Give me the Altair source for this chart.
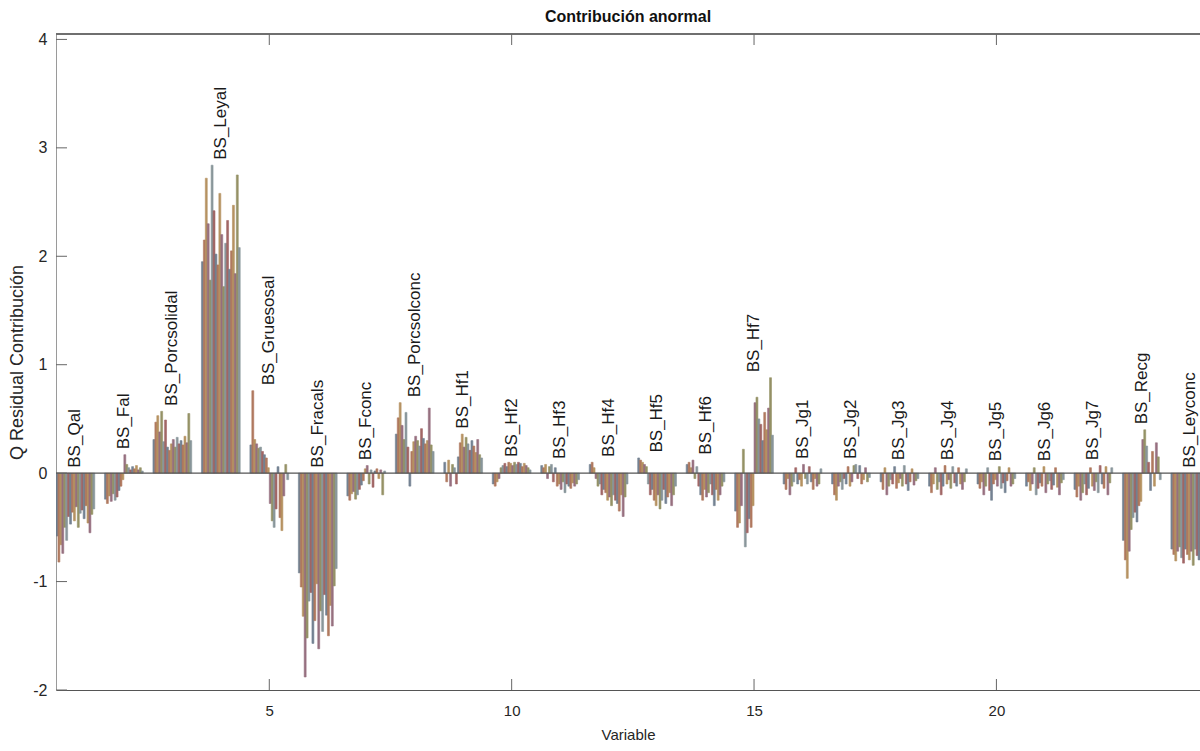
import altair as alt
import pandas as pd

# Variable names (one group of bars per variable)
variables = [
    "BS_Qal", "BS_Fal", "BS_Porcsolidal", "BS_Leyal", "BS_Gruesosal", "BS_Fracals",
    "BS_Fconc", "BS_Porcsolconc", "BS_Hf1", "BS_Hf2", "BS_Hf3", "BS_Hf4", "BS_Hf5",
    "BS_Hf6", "BS_Hf7", "BS_Jg1", "BS_Jg2", "BS_Jg3", "BS_Jg4", "BS_Jg5", "BS_Jg6",
    "BS_Jg7", "BS_Recg", "BS_Leyconc",
]

# Q residual contribution of each abnormal sample, per variable
qal = [-0.58, -0.82, -0.66, -0.74, -0.5, -0.62, -0.4, -0.47, -0.36, -0.44, -0.31, -0.5, -0.37, -0.34, -0.42, -0.3, -0.46, -0.55, -0.38, -0.33]
fal = [-0.24, -0.28, -0.21, -0.26, -0.19, -0.25, -0.22, -0.16, -0.12, -0.06, 0.17, 0.08, 0.05, 0.03, 0.06, 0.04, 0.07, 0.03, 0.05, 0.02]
porcsolidal = [0.31, 0.47, 0.53, 0.38, 0.57, 0.29, 0.49, 0.24, 0.21, 0.27, 0.31, 0.24, 0.33, 0.27, 0.3, 0.26, 0.34, 0.28, 0.55, 0.3]
leyal = [1.95, 2.15, 2.72, 2.3, 1.78, 2.84, 2.42, 2.02, 1.92, 2.58, 2.2, 1.72, 2.12, 2.33, 1.88, 2.05, 2.47, 1.84, 2.75, 2.08]
gruesosal = [0.26, 0.76, 0.31, 0.27, 0.23, 0.24, 0.2, 0.17, 0.14, 0.05, -0.28, -0.44, -0.5, -0.33, 0.06, -0.41, -0.53, -0.21, 0.08, -0.06]
fracals = [-0.92, -1.05, -1.32, -1.88, -1.52, -1.18, -1.1, -1.57, -1.36, -1.02, -1.62, -1.27, -1.46, -1.12, -1.31, -1.5, -1.22, -1.41, -1.04, -0.88]
fconc = [-0.21, -0.25, -0.19, -0.17, -0.24, -0.2, -0.15, -0.11, -0.07, 0.04, 0.07, -0.1, 0.03, -0.13, 0.02, 0.04, -0.05, 0.03, -0.2, 0.02]
porcsolconc = [0.36, 0.51, 0.65, 0.44, 0.31, 0.56, 0.24, -0.12, 0.2, 0.29, 0.34, 0.3, 0.25, 0.41, 0.32, 0.27, 0.3, 0.6, 0.26, 0.2]
hf1 = [0.1, -0.08, 0.12, -0.12, 0.08, 0.05, -0.1, 0.15, 0.28, 0.36, 0.24, 0.33, 0.27, 0.21, 0.3, 0.25, 0.19, 0.31, 0.17, 0.14]
hf2 = [-0.1, -0.12, -0.08, -0.05, 0.05, 0.07, 0.09, 0.06, 0.1, 0.09, 0.07, 0.1, 0.08, 0.1, 0.09, 0.06, 0.09, 0.07, 0.05, 0.03]
hf3 = [0.07, 0.05, 0.08, -0.05, 0.06, 0.08, -0.08, 0.05, -0.12, -0.1, -0.15, -0.08, -0.18, -0.1, -0.12, -0.14, -0.09, -0.12, -0.1, -0.06]
hf4 = [0.08, 0.1, 0.05, -0.05, -0.12, -0.1, -0.2, -0.15, -0.18, -0.25, -0.22, -0.3, -0.2, -0.25, -0.28, -0.35, -0.2, -0.4, -0.22, -0.1]
hf5 = [0.14, 0.12, 0.1, 0.08, 0.06, -0.1, -0.2, -0.15, -0.25, -0.3, -0.2, -0.33, -0.25, -0.15, -0.28, -0.22, -0.18, -0.3, -0.2, -0.12]
hf6 = [0.08, 0.1, 0.05, 0.12, -0.05, 0.06, -0.12, -0.2, -0.25, -0.15, -0.22, -0.18, -0.1, -0.2, -0.3, -0.15, -0.25, -0.2, -0.12, -0.08]
hf7 = [-0.35, -0.5, -0.46, -0.3, 0.22, -0.68, -0.55, -0.42, -0.5, -0.3, 0.65, 0.7, 0.5, 0.45, 0.3, 0.56, 0.4, 0.6, 0.88, 0.35]
jg1 = [-0.1, -0.15, -0.05, -0.2, -0.12, -0.08, 0.05, -0.1, -0.06, -0.12, 0.08, -0.05, -0.1, 0.06, -0.08, -0.15, -0.05, -0.12, -0.1, 0.04]
jg2 = [-0.1, -0.2, -0.25, -0.12, -0.08, -0.15, -0.05, -0.1, 0.06, -0.12, -0.08, 0.07, 0.08, -0.05, 0.07, -0.1, -0.06, 0.05, -0.08, -0.04]
jg3 = [-0.08, -0.15, 0.05, -0.2, -0.12, -0.06, -0.1, 0.06, -0.14, -0.09, -0.05, -0.12, 0.07, -0.1, -0.16, -0.08, 0.04, -0.11, -0.07, -0.05]
jg4 = [-0.12, -0.18, -0.1, 0.05, -0.15, -0.08, -0.2, -0.12, 0.07, -0.1, -0.06, -0.14, 0.06, -0.09, -0.12, 0.05, -0.1, -0.15, -0.08, 0.04]
jg5 = [-0.1, -0.14, -0.08, -0.2, -0.12, 0.05, -0.16, -0.25, -0.1, -0.06, -0.12, 0.06, -0.14, -0.09, -0.18, -0.07, 0.05, -0.12, -0.1, -0.05]
jg6 = [-0.12, -0.08, -0.16, -0.1, 0.05, -0.2, -0.14, -0.09, -0.12, 0.06, -0.18, -0.1, -0.07, -0.15, -0.11, 0.05, -0.13, -0.2, -0.09, -0.06]
jg7 = [-0.15, -0.22, -0.12, -0.25, -0.18, -0.1, -0.2, -0.14, 0.05, -0.12, -0.16, -0.08, -0.18, 0.07, -0.1, -0.14, 0.06, -0.2, -0.09, 0.05]
recg = [-0.62, -0.8, -0.97, -0.72, -0.52, -0.41, -0.36, -0.45, -0.3, -0.26, 0.31, 0.4, 0.25, 0.1, -0.16, 0.2, -0.12, 0.28, 0.15, -0.06]
leyconc = [-0.7, -0.75, -0.81, -0.72, -0.68, -0.78, -0.83, -0.7, -0.75, -0.8, -0.72, -0.85, -0.7, -0.76, -0.8, -0.72, -0.78, -0.7, -0.74, -0.8]

groups = [qal, fal, porcsolidal, leyal, gruesosal, fracals, fconc, porcsolconc,
          hf1, hf2, hf3, hf4, hf5, hf6, hf7, jg1, jg2, jg3, jg4, jg5, jg6, jg7,
          recg, leyconc]

# Series colour order (heavily muted default colour order)
palette = ["#69788a", "#aa6e53", "#b08a55", "#8f6476", "#8d895a", "#808e93", "#9a5b5a"]

x_ticks = [5, 10, 15, 20]
y_ticks = [-2, -1, 0, 1, 2, 3, 4]

W, H = 1144, 656
X_DOMAIN = [0.6, 24.2]
Y_DOMAIN = [-2, 4.05]
GROUP_WIDTH = 0.8
LABEL_GAP = 0.05
FONT = "Liberation Sans"
TEXT = "#262626"

# Grouped bar table: each sample gets its own slot within the variable's group
rows = []
for i, vals in enumerate(groups, start=1):
    slot = GROUP_WIDTH / len(vals)
    for j, v in enumerate(vals):
        left = i - GROUP_WIDTH / 2 + j * slot
        rows.append({"x0": left, "x1": left + slot, "value": v,
                     "color": palette[j % len(palette)]})
bars_df = pd.DataFrame(rows)

labels_df = pd.DataFrame({
    "pos": list(range(1, len(variables) + 1)),
    "ly": [max(0.0, max(vals)) + LABEL_GAP for vals in groups],
    "name": variables,
})

xscale = alt.Scale(domain=X_DOMAIN, nice=False, zero=False)
yscale = alt.Scale(domain=Y_DOMAIN, nice=False, zero=False)

x_axis = alt.Axis(values=x_ticks, labelExpr="toString(datum.value)", title="Variable",
                  ticks=False, grid=False, labelPadding=13, titlePadding=9,
                  domainColor="#555555", labelFlush=False, labelOverlap=False,
                  labelFont=FONT, titleFont=FONT, labelFontSize=15, titleFontSize=15,
                  titleFontWeight="normal", labelColor=TEXT, titleColor=TEXT)
y_axis = alt.Axis(values=y_ticks, labelExpr="toString(datum.value)",
                  title="Q Residual Contribución", ticks=False, grid=False,
                  labelPadding=9, titlePadding=6, domainColor="#9a9a9a",
                  labelFlush=False, labelOverlap=False, labelFont=FONT, titleFont=FONT,
                  labelFontSize=16, titleFontSize=18, titleFontWeight="normal",
                  labelColor=TEXT, titleColor=TEXT)

bars = alt.Chart(bars_df).mark_rect(clip=True, strokeWidth=0.6, opacity=0.92).encode(
    x=alt.X("x0:Q", scale=xscale, axis=x_axis),
    x2="x1:Q",
    y=alt.Y("value:Q", scale=yscale, axis=y_axis),
    y2=alt.datum(0),
    color=alt.Color("color:N", scale=None),
    stroke=alt.Stroke("color:N", scale=None),
)

baseline = alt.Chart(pd.DataFrame({"z": [0]})).mark_rule(
    color="#555555", strokeWidth=1.1).encode(y=alt.Y("z:Q", scale=yscale))

names = alt.Chart(labels_df).mark_text(
    angle=270, align="left", baseline="middle", fontSize=17, font=FONT,
    color="#1a1a1a").encode(
    x=alt.X("pos:Q", scale=xscale),
    y=alt.Y("ly:Q", scale=yscale),
    text="name:N",
)

# Inward tick marks on bottom, top and left edges
xt = pd.DataFrame({"t": x_ticks})
yt = pd.DataFrame({"t": y_ticks})
tick_style = dict(color="#666666", strokeWidth=1)
bottom_ticks = alt.Chart(xt).mark_rule(**tick_style).encode(
    x=alt.X("t:Q", scale=xscale), y=alt.value(H), y2=alt.value(H - 11))
top_ticks = alt.Chart(xt).mark_rule(**tick_style).encode(
    x=alt.X("t:Q", scale=xscale), y=alt.value(0), y2=alt.value(11))
left_ticks = alt.Chart(yt).mark_rule(**tick_style).encode(
    y=alt.Y("t:Q", scale=yscale), x=alt.value(0), x2=alt.value(11))
top_border = alt.Chart(xt).mark_rule(color="#666666", strokeWidth=1.2).encode(
    x=alt.value(0), x2=alt.value(W), y=alt.value(0))

chart = alt.layer(
    bars, baseline, names, bottom_ticks, top_ticks, left_ticks, top_border
).properties(
    width=W, height=H,
    background="white",
    title=alt.TitleParams("Contribución anormal", fontSize=16, fontWeight="bold",
                          font=FONT, color="#111111", offset=6, anchor="middle"),
    padding={"left": 56, "top": 34, "right": 0, "bottom": 61},
    autosize=alt.AutoSizeParams(type="none"),
).configure_view(strokeWidth=0)

chart.save("out.html", embed_options={"renderer": "svg", "actions": False})
